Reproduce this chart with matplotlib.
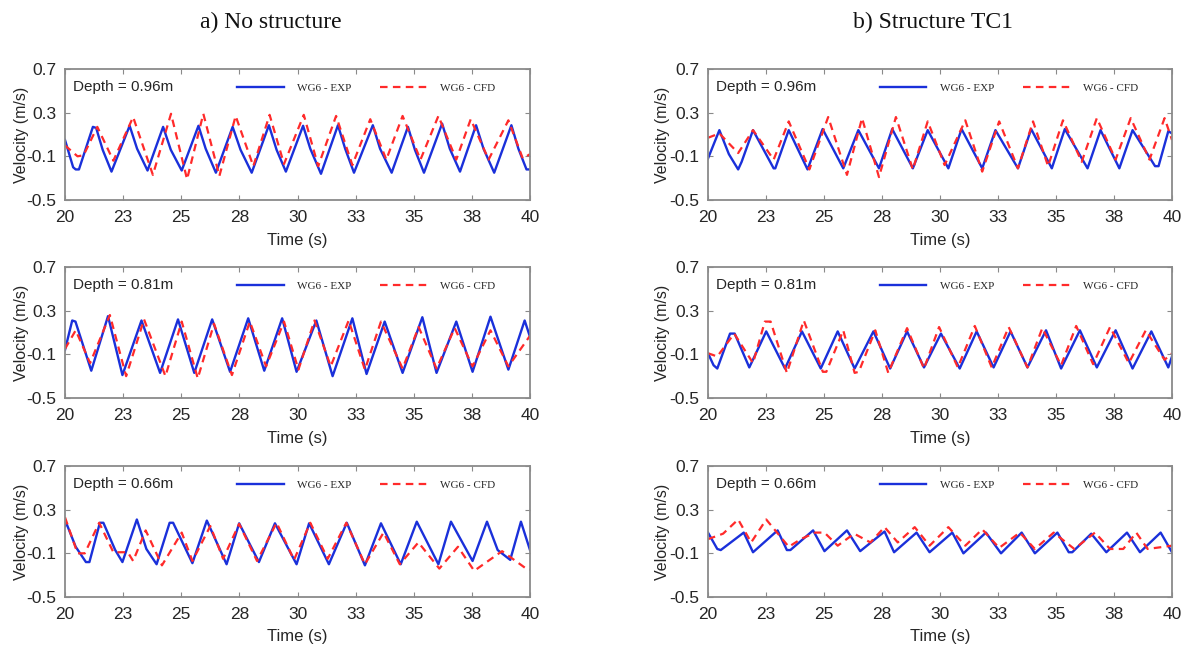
import matplotlib
matplotlib.use('Agg')
from matplotlib import pyplot as plt

W, H = 1186, 648

# ---- a) no structure ----
depth_labels = ['Depth = 0.96m', 'Depth = 0.81m', 'Depth = 0.66m']
titles = ['a) No structure', 'b) Structure TC1']
xtick_pos = [20, 22.5, 25, 27.5, 30, 32.5, 35, 37.5, 40]
xtick_lab = ['20', '23', '25', '28', '30', '33', '35', '38', '40']
ytick_pos = [-0.5, -0.1, 0.3, 0.7]

a96_exp_t = [20.0, 20.35, 20.46, 20.6, 21.2, 21.34, 21.62, 22.0, 22.78, 23.1, 23.55, 24.22, 24.55, 25.02,
             25.74, 26.05, 26.49, 27.21, 27.55, 28.03, 28.77, 29.1, 29.5, 30.24, 30.55, 31.01, 31.74,
             32.05, 32.43, 33.24, 33.55, 34.05, 34.75, 35.05, 35.44, 36.22, 36.55, 36.99, 37.68, 38.0,
             38.46, 39.2, 39.5, 39.85, 40.0]
a96_exp_v = [0.05, -0.2, -0.22, -0.22, 0.17, 0.16, -0.04, -0.24, 0.18, -0.03, -0.23, 0.17, -0.04, -0.23,
             0.18, -0.03, -0.25, 0.17, -0.04, -0.25, 0.185, -0.04, -0.24, 0.18, -0.03, -0.26, 0.185,
             -0.03, -0.25, 0.185, -0.03, -0.25, 0.17, -0.04, -0.25, 0.20, -0.03, -0.24, 0.185, -0.03,
             -0.25, 0.185, -0.03, -0.22, -0.22]
a96_cfd_t = [20.0, 20.54, 20.8, 21.39, 22.08, 22.93, 23.78, 24.56, 25.25, 25.95, 26.64, 27.34, 28.1,
             28.8, 29.42, 30.27, 30.89, 31.66, 32.36, 33.13, 33.82, 34.52, 35.29, 36.06, 36.83, 37.45,
             38.22, 39.07, 39.69, 40.0]
a96_cfd_v = [0.0, -0.1, -0.09, 0.17, -0.14, 0.26, -0.27, 0.29, -0.31, 0.29, -0.28, 0.27, -0.19, 0.28,
             -0.17, 0.28, -0.19, 0.27, -0.18, 0.24, -0.13, 0.27, -0.13, 0.27, -0.13, 0.24, -0.13, 0.23,
             -0.12, -0.08]

a81_exp_t = [20.0, 20.31, 20.45, 21.13, 21.85, 22.47, 23.29, 24.09, 24.86, 25.56, 26.33, 27.1, 27.88,
             28.57, 29.34, 29.96, 30.81, 31.51, 32.36, 32.97, 33.75, 34.52, 35.37, 35.98, 36.83, 37.53,
             38.3, 39.07, 39.77, 40.0]
a81_exp_v = [-0.06, 0.21, 0.2, -0.25, 0.25, -0.29, 0.21, -0.27, 0.22, -0.27, 0.22, -0.26, 0.23, -0.25,
             0.23, -0.26, 0.21, -0.30, 0.23, -0.28, 0.2, -0.27, 0.24, -0.27, 0.2, -0.26, 0.245, -0.24,
             0.21, 0.06]
a81_cfd_t = [20.0, 20.46, 21.08, 21.93, 22.63, 23.4, 24.32, 25.02, 25.71, 26.41, 27.18, 27.95, 28.65,
             29.42, 30.04, 30.73, 31.43, 32.2, 32.9, 33.59, 34.52, 35.21, 35.98, 36.76, 37.53, 38.3,
             39.07, 40.0]
a81_cfd_v = [-0.05, 0.12, -0.18, 0.26, -0.30, 0.22, -0.30, 0.2, -0.32, 0.18, -0.29, 0.2, -0.21, 0.2,
             -0.24, 0.21, -0.21, 0.21, -0.24, 0.2, -0.23, 0.15, -0.23, 0.14, -0.21, 0.12, -0.21, 0.07]

a66_exp_t = [20.0, 20.05, 20.46, 20.9, 21.05, 21.5, 21.65, 22.16, 22.47, 23.09, 23.5, 23.94, 24.5, 24.65,
             25.48, 26.1, 26.95, 27.49, 28.34, 29.03, 29.96, 30.5, 31.35, 32.12, 32.9, 33.59, 34.44,
             35.13, 36.06, 36.6, 37.53, 38.15, 38.61, 39.15, 39.61, 40.0]
a66_exp_v = [0.15, 0.18, -0.04, -0.18, -0.18, 0.18, 0.18, -0.07, -0.18, 0.21, -0.06, -0.2, 0.18, 0.18,
             -0.19, 0.2, -0.2, 0.175, -0.18, 0.175, -0.2, 0.175, -0.2, 0.18, -0.21, 0.175, -0.2, 0.19,
             -0.2, 0.19, -0.17, 0.19, -0.07, -0.16, 0.19, -0.07]
a66_cfd_t = [20.0, 20.54, 20.85, 21.47, 22.08, 22.7, 22.93, 23.47, 24.17, 25.02, 25.48, 26.25, 26.8,
             27.49, 28.26, 29.1, 29.85, 30.55, 31.3, 32.1, 32.9, 33.7, 34.4, 35.2, 36.1, 36.9, 37.6,
             38.8, 39.9, 40.0]
a66_cfd_v = [0.23, -0.1, -0.1, 0.18, -0.09, -0.09, -0.17, 0.11, -0.21, 0.09, -0.17, 0.15, -0.15, 0.17,
             -0.17, 0.18, -0.16, 0.18, -0.15, 0.18, -0.2, 0.09, -0.2, 0.0, -0.24, -0.04, -0.26, -0.08,
             -0.25, -0.25]

# ---- b) structure TC1 ----
b96_exp_t = [20.0, 20.49, 20.9, 21.3, 21.45, 21.94, 22.83, 22.9, 23.48, 24.29, 24.94, 25.83, 26.48,
             27.37, 27.94, 28.83, 29.47, 30.36, 30.93, 31.82, 32.39, 33.36, 33.93, 34.82, 35.38, 36.36,
             36.92, 37.73, 38.3, 39.27, 39.42, 39.84, 40.0]
b96_exp_v = [-0.12, 0.14, -0.08, -0.22, -0.15, 0.14, -0.21, -0.21, 0.14, -0.22, 0.15, -0.21, 0.14,
             -0.21, 0.15, -0.21, 0.14, -0.21, 0.15, -0.21, 0.14, -0.21, 0.15, -0.21, 0.15, -0.21, 0.14,
             -0.21, 0.14, -0.19, -0.19, 0.13, 0.11]
b96_cfd_t = [20.0, 20.49, 21.3, 21.94, 22.83, 23.48, 24.37, 25.18, 25.99, 26.64, 27.37, 28.1, 28.83,
             29.47, 30.2, 31.09, 31.82, 32.55, 33.36, 34.01, 34.66, 35.3, 36.11, 36.76, 37.57, 38.22,
             39.03, 39.68, 40.0]
b96_cfd_v = [0.07, 0.11, -0.07, 0.14, -0.13, 0.22, -0.22, 0.26, -0.27, 0.25, -0.29, 0.26, -0.22, 0.22,
             -0.18, 0.23, -0.24, 0.22, -0.21, 0.22, -0.19, 0.23, -0.15, 0.25, -0.13, 0.25, -0.13, 0.25,
             0.05]

b81_exp_t = [20.0, 20.24, 20.4, 20.95, 21.15, 21.78, 22.51, 23.32, 24.05, 24.86, 25.59, 26.32, 27.13,
             27.85, 28.58, 29.31, 30.04, 30.85, 31.58, 32.31, 33.04, 33.77, 34.57, 35.22, 36.03, 36.76,
             37.57, 38.3, 39.11, 39.84, 40.0]
b81_exp_v = [-0.09, -0.2, -0.23, 0.09, 0.09, -0.22, 0.11, -0.23, 0.11, -0.23, 0.11, -0.23, 0.11, -0.23,
             0.11, -0.22, 0.09, -0.23, 0.11, -0.22, 0.11, -0.22, 0.12, -0.23, 0.12, -0.22, 0.12, -0.23,
             0.11, -0.22, -0.12]
b81_cfd_t = [20.0, 20.4, 21.13, 21.94, 22.45, 22.7, 23.4, 24.13, 24.95, 25.1, 25.83, 26.32, 26.5, 27.21,
             27.77, 28.58, 29.31, 29.96, 30.77, 31.5, 32.23, 32.96, 33.77, 34.41, 35.22, 35.87, 36.6,
             37.33, 38.14, 38.87, 39.68, 40.0]
b81_cfd_v = [-0.09, -0.12, 0.09, -0.18, 0.2, 0.2, -0.27, 0.21, -0.26, -0.26, 0.12, -0.27, -0.26, 0.12,
             -0.27, 0.14, -0.23, 0.15, -0.22, 0.16, -0.22, 0.15, -0.22, 0.14, -0.2, 0.16, -0.19, 0.15,
             -0.18, 0.12, -0.15, -0.09]

b66_exp_t = [20.0, 20.4, 20.55, 21.54, 21.94, 23.0, 23.4, 23.55, 24.53, 25.02, 25.99, 26.56, 27.61,
             28.02, 28.99, 29.55, 30.53, 31.01, 31.98, 32.63, 33.52, 34.09, 35.06, 35.55, 35.7, 36.52,
             37.17, 38.06, 38.62, 39.51, 40.0]
b66_exp_v = [0.09, -0.06, -0.07, 0.09, -0.09, 0.11, -0.07, -0.07, 0.11, -0.08, 0.11, -0.08, 0.10, -0.09,
             0.09, -0.09, 0.09, -0.1, 0.09, -0.1, 0.09, -0.1, 0.09, -0.09, -0.09, 0.08, -0.09, 0.09,
             -0.09, 0.09, -0.09]
b66_cfd_t = [20.0, 20.65, 21.3, 21.86, 22.51, 23.48, 24.0, 24.62, 25.02, 25.59, 26.3, 27.0, 27.61, 28.18,
             28.91, 29.55, 30.36, 31.09, 31.82, 32.55, 33.44, 34.09, 34.9, 35.79, 36.68, 37.33, 37.9,
             38.46, 38.95, 40.0]
b66_cfd_v = [0.03, 0.08, 0.21, 0.0, 0.21, -0.04, 0.03, 0.09, 0.09, -0.03, 0.08, 0.0, 0.14, 0.0, 0.14,
             -0.03, 0.14, -0.03, 0.12, -0.05, 0.09, -0.06, 0.09, -0.06, 0.09, -0.06, -0.06, 0.09, -0.06,
             -0.03]

panels = [
    [(a96_exp_t, a96_exp_v, a96_cfd_t, a96_cfd_v),
     (a81_exp_t, a81_exp_v, a81_cfd_t, a81_cfd_v),
     (a66_exp_t, a66_exp_v, a66_cfd_t, a66_cfd_v)],
    [(b96_exp_t, b96_exp_v, b96_cfd_t, b96_cfd_v),
     (b81_exp_t, b81_exp_v, b81_cfd_t, b81_cfd_v),
     (b66_exp_t, b66_exp_v, b66_cfd_t, b66_cfd_v)],
]

sans = ['Liberation Sans', 'DejaVu Sans']
serif = ['Liberation Serif', 'DejaVu Serif']
blue = '#1a30da'
red = '#ff2a2a'
grey = '#8a8a8a'
txt = '#262626'

fig = plt.figure(figsize=(W / 100, H / 100), dpi=100)

col_x = [(65, 530), (708, 1172)]
row_y = [(69, 200), (267, 398), (466, 597)]
title_x = [271, 933]
ylab_x = [22, 662]

for c in range(2):
    x0, x1 = col_x[c]
    fig.text(title_x[c] / W, 1 - 22 / H, titles[c], family=serif, fontsize=17,
             ha='center', va='center', color='#111111')
    for r in range(3):
        y0, y1 = row_y[r]
        ax = fig.add_axes([x0 / W, 1 - y1 / H, (x1 - x0) / W, (y1 - y0) / H])
        te, ve, tc, vc = panels[c][r]
        ax.plot(te, ve, color=blue, lw=1.7, label='WG6 - EXP')
        ax.plot(tc, vc, color=red, lw=1.6, linestyle=(0, (3.4, 2.4)), label='WG6 - CFD')

        ax.set_xlim(20, 40)
        ax.set_ylim(-0.5, 0.7)
        ax.set_xticks(xtick_pos)
        ax.set_xticklabels(xtick_lab)
        ax.set_yticks(ytick_pos)
        ax.set_yticklabels(['-0.5', '-0.1', '0.3', '0.7'])
        ax.tick_params(direction='in', length=3.5, width=0.8, color=grey, top=True, right=True,
                       labelsize=12.5, labelcolor=txt)
        ax.tick_params(axis='x', pad=7)
        ax.tick_params(axis='y', pad=6)
        for lab in ax.get_xticklabels() + ax.get_yticklabels():
            lab.set_family(sans)
        for s in ax.spines.values():
            s.set_color(grey)
            s.set_linewidth(1.3)

        ax.set_xlabel('Time (s)', family=sans, fontsize=12, color=txt, va='center')
        ax.xaxis.set_label_coords(0.5, -40 / (y1 - y0))
        ax.set_ylabel('Velocity (m/s)', family=sans, fontsize=11.5, color=txt, va='center')
        ax.yaxis.set_label_coords((ylab_x[c] - x0) / (x1 - x0), 0.5)

        ax.text(0.018, 0.865, depth_labels[r], transform=ax.transAxes, family=sans,
                fontsize=11, color=txt, va='center', ha='left')
        leg = ax.legend(loc='center left', bbox_to_anchor=(0.37, 0.855), ncol=2, frameon=False,
                        prop={'family': serif, 'size': 8}, handlelength=4.2, handletextpad=1.2,
                        columnspacing=2.6, borderaxespad=0, borderpad=0)
        for t in leg.get_texts():
            t.set_color(txt)

fig.savefig('out.png', dpi=100)
